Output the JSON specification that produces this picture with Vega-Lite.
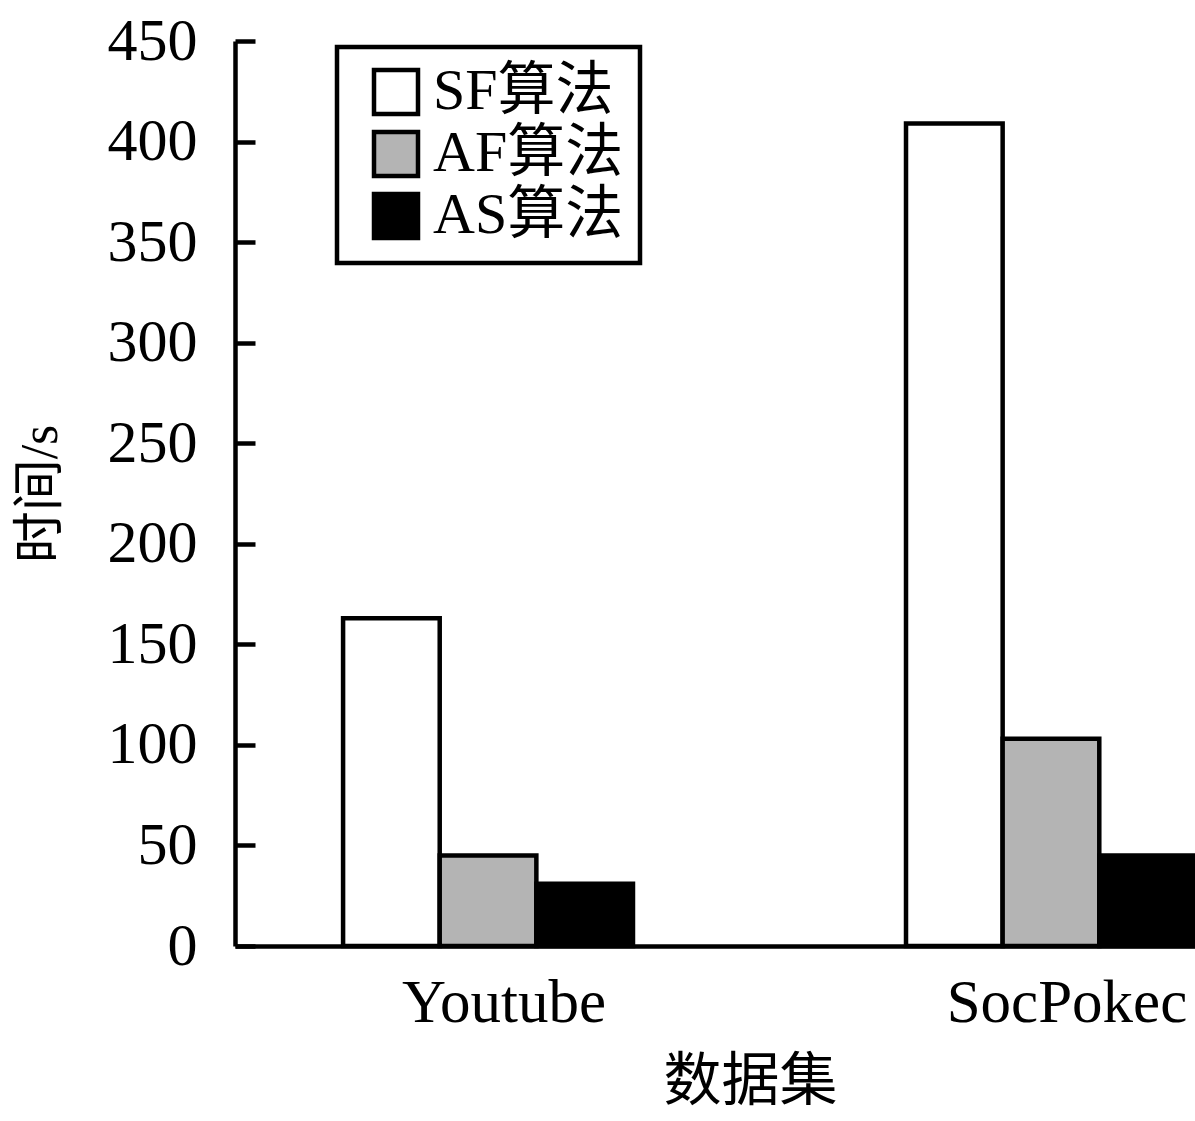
{
  "$schema": "https://vega.github.io/schema/vega-lite/v6.json",
  "width": 960,
  "height": 905,
  "autosize": {"type": "none"},
  "padding": {"left": 235, "top": 41, "right": 0, "bottom": 175},
  "background": "white",
  "config": {
    "view": {"stroke": null},
    "font": "Liberation Serif, Noto Sans CJK SC",
    "axis": {"labelFont": "Liberation Serif, Noto Sans CJK SC", "titleFont": "Liberation Serif, Noto Sans CJK SC"},
    "legend": {"labelFont": "Liberation Serif, Noto Sans CJK SC"}
  },
  "data": {
    "values": [
      {"dataset": "Youtube", "algo": "SF算法", "time": 163},
      {"dataset": "Youtube", "algo": "AF算法", "time": 45},
      {"dataset": "Youtube", "algo": "AS算法", "time": 31},
      {"dataset": "SocPokec", "algo": "SF算法", "time": 409},
      {"dataset": "SocPokec", "algo": "AF算法", "time": 103},
      {"dataset": "SocPokec", "algo": "AS算法", "time": 45}
    ]
  },
  "mark": {"type": "bar", "stroke": "black", "strokeWidth": 4.5, "opacity": 1},
  "encoding": {
    "x": {
      "field": "dataset",
      "type": "nominal",
      "sort": ["Youtube", "SocPokec"],
      "scale": {"range": [0, 1069], "paddingInner": 0.485, "paddingOuter": 0.192},
      "axis": {
        "title": "数据集",
        "titleFontSize": 58,
        "titleFontWeight": "normal",
        "titleColor": "black",
        "titleX": 515,
        "titleY": 107,
        "labelAngle": 0,
        "labelFontSize": 61,
        "labelColor": "black",
        "labelPadding": 27,
        "labelOffset": 16,
        "labelLimit": 500,
        "ticks": false,
        "domainColor": "black",
        "domainWidth": 4.5,
        "grid": false
      }
    },
    "xOffset": {
      "field": "algo",
      "type": "nominal",
      "sort": ["SF算法", "AF算法", "AS算法"],
      "scale": {"paddingInner": 0, "paddingOuter": 0}
    },
    "y": {
      "field": "time",
      "type": "quantitative",
      "scale": {"domain": [0, 450], "nice": false},
      "axis": {
        "title": "时间/s",
        "titleFontSize": 52,
        "titleFontWeight": "normal",
        "titleColor": "black",
        "titlePadding": 40,
        "values": [0, 50, 100, 150, 200, 250, 300, 350, 400, 450],
        "labelFontSize": 60,
        "labelColor": "black",
        "labelPadding": 58,
        "tickSize": -20,
        "tickWidth": 4.5,
        "tickColor": "black",
        "domainColor": "black",
        "domainWidth": 4.5,
        "grid": false
      }
    },
    "fill": {
      "field": "algo",
      "type": "nominal",
      "sort": ["SF算法", "AF算法", "AS算法"],
      "scale": {"domain": ["SF算法", "AF算法", "AS算法"], "range": ["white", "#b4b4b4", "black"]},
      "legend": {
        "title": null,
        "orient": "none",
        "legendX": 102,
        "legendY": 6,
        "strokeColor": "black",
        "fillColor": "white",
        "padding": 16,
        "symbolType": "square",
        "symbolSize": 1936,
        "symbolStrokeColor": "black",
        "symbolStrokeWidth": 4.5,
        "symbolOpacity": 1,
        "symbolOffset": 14,
        "labelFontSize": 58,
        "labelColor": "black",
        "labelOffset": 8,
        "rowPadding": 0,
        "labelLimit": 400,
        "encode": {"legend": {"update": {"strokeWidth": {"value": 4.5}}}}
      }
    }
  }
}
